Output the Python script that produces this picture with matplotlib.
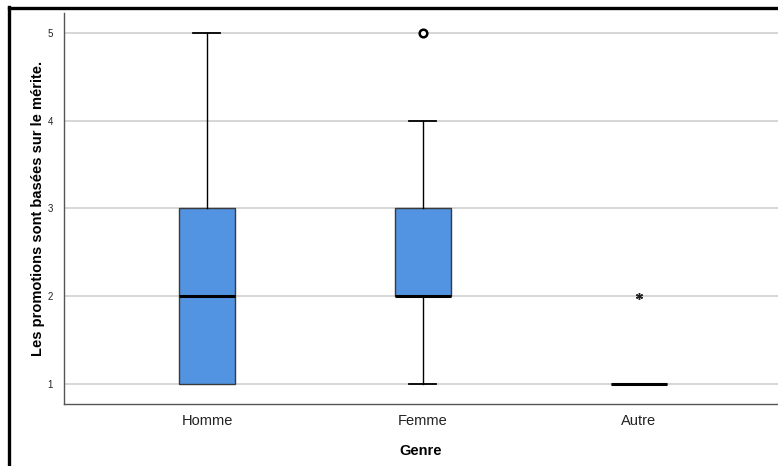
import matplotlib
matplotlib.use("Agg")
import matplotlib.pyplot as plt
from matplotlib.lines import Line2D

categories = ["Homme", "Femme", "Autre"]
whislo = [1, 1, 1]
q1 = [1, 2, 1]
med = [2, 2, 1]
q3 = [3, 3, 1]
whishi = [5, 4, 1]
outliers_circle = [[], [5], []]
outliers_star = [[], [], [2]]
yticks = [1, 2, 3, 4, 5]

plt.rcParams['font.family'] = ['Liberation Sans', 'DejaVu Sans']

fig = plt.figure(figsize=(7.78, 4.66), dpi=100)
ax = fig.add_axes([64/778, 62/466, 1 - 64/778, (404-13)/466])

stats = []
for i, c in enumerate(categories):
    stats.append(dict(label=c, whislo=whislo[i], q1=q1[i], med=med[i],
                      q3=q3[i], whishi=whishi[i], fliers=[]))
pos = [1, 2, 3]
res = ax.bxp(stats, positions=pos, widths=0.255, patch_artist=True, showfliers=False,
             boxprops=dict(facecolor='#5294E2', edgecolor='#3a3a3a', linewidth=1.0),
             medianprops=dict(color='black', linewidth=2.2, solid_capstyle='butt'),
             whiskerprops=dict(color='black', linewidth=1.0),
             capprops=dict(color='black', linewidth=1.3),
             capwidths=0.125, zorder=3)
for i in range(len(categories)):
    if whislo[i] == q1[i]:
        res['caps'][2*i].set_visible(False)
    if whishi[i] == q3[i]:
        res['caps'][2*i+1].set_visible(False)

for i, vals in enumerate(outliers_circle):
    for v in vals:
        ax.plot(pos[i], v, marker='o', markersize=5.5, markerfacecolor='white',
                markeredgecolor='black', markeredgewidth=1.8, linestyle='none', zorder=4)
for i, vals in enumerate(outliers_star):
    for v in vals:
        ax.plot(pos[i], v, marker=(6, 2, 0), markersize=5, markeredgecolor='#222222',
                markeredgewidth=1.0, linestyle='none', zorder=4)

ax.set_xlim(1 - 143/216, 3 + 139/216)
ax.set_ylim(1 - 20/87.75, 5 + 20/87.75)
ax.set_yticks(yticks)
ax.set_yticklabels([str(t) for t in yticks], fontsize=7, color='#222222')
ax.set_xticks(pos)
ax.set_xticklabels(categories, fontsize=10.5, color='#222222')
ax.tick_params(axis='both', length=0, pad=8)
ax.tick_params(axis='x', pad=7)
ax.yaxis.grid(True, color='#d0d0d0', linewidth=1.2, zorder=0)
ax.set_axisbelow(True)
for s in ['top', 'right']:
    ax.spines[s].set_visible(False)
for s in ['left', 'bottom']:
    ax.spines[s].set_color('#555555')
    ax.spines[s].set_linewidth(1.0)

ax.set_xlabel('Genre', fontsize=10.5, fontweight='bold', labelpad=12)
ax.set_ylabel('Les promotions sont basées sur le mérite.', fontsize=10.5,
              fontweight='bold', labelpad=2)

# outer frame (top and left)
fig.add_artist(Line2D([9/778, 1], [1 - 7.5/466, 1 - 7.5/466], transform=fig.transFigure,
                      color='black', linewidth=2.4))
fig.add_artist(Line2D([9/778, 9/778], [0, 1 - 6.5/466], transform=fig.transFigure,
                      color='black', linewidth=2.4))

fig.savefig('out.png', dpi=100)
